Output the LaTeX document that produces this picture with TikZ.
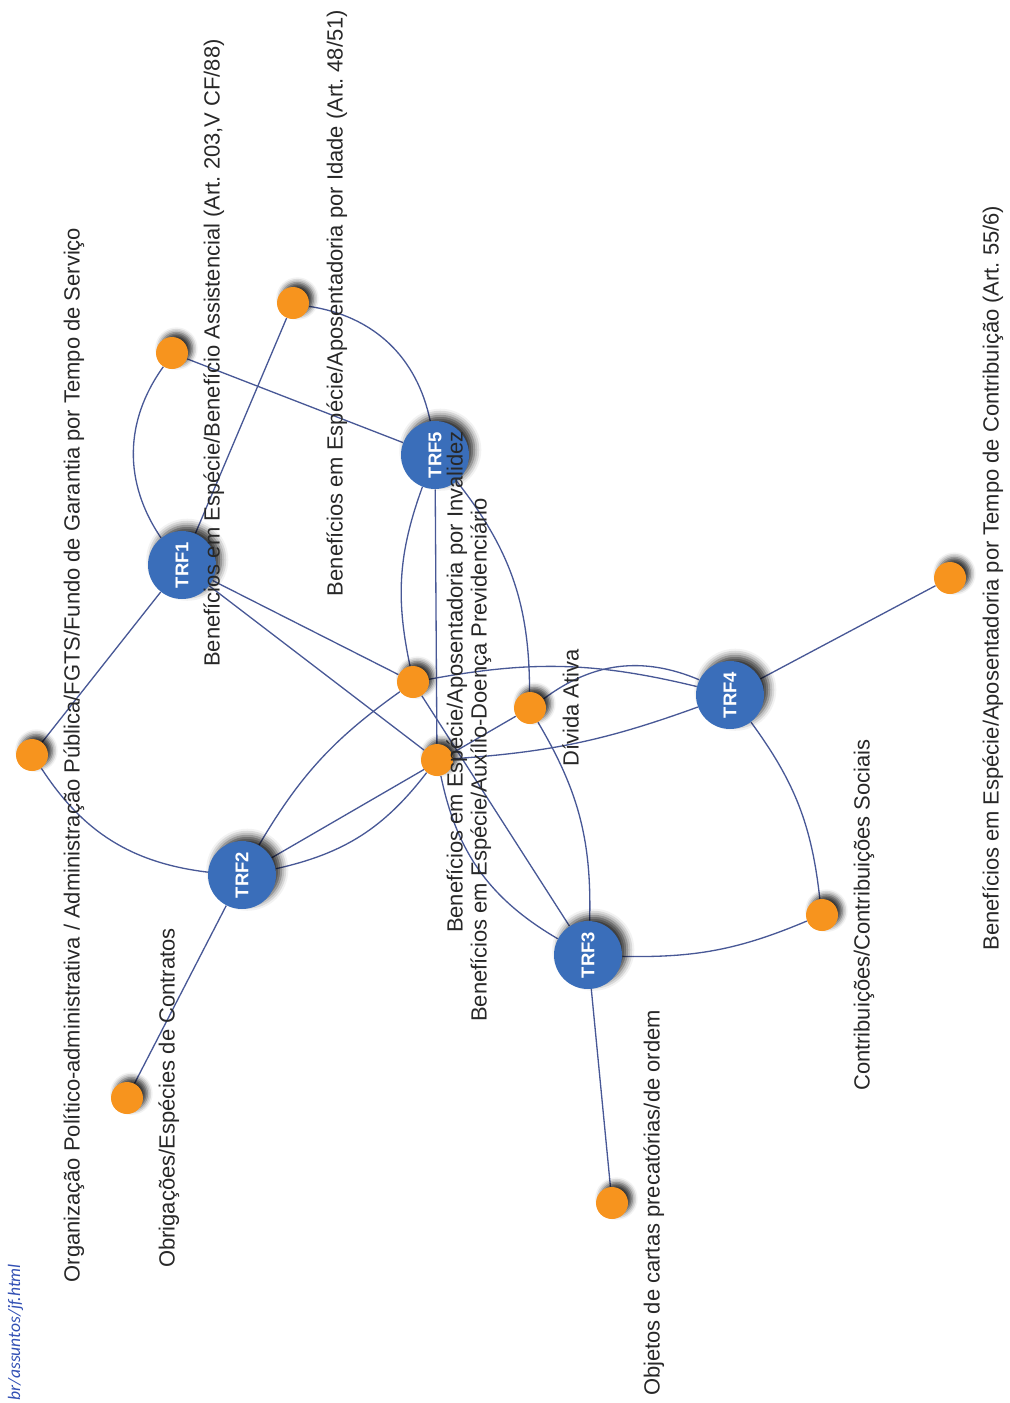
\documentclass[tikz,border=0pt]{standalone}
\usepackage{fontspec}
\setmainfont{Liberation Sans}
\newfontfamily\urlfont{Carlito}
\usepackage{graphicx}
\usepackage{tikz}
\usetikzlibrary{positioning,backgrounds,shadows.blur}
\definecolor{trfblue}{RGB}{58, 110, 186}
\definecolor{topicorange}{RGB}{247, 148, 30}
\definecolor{edgeslate}{RGB}{72, 88, 150}
\definecolor{urlblue}{RGB}{50, 80, 180}
\definecolor{labelgray}{RGB}{40, 40, 40}
\frenchspacing

\begin{document}
\begin{tikzpicture}[x=0.02cm, y=-0.02cm,
  trf/.style={circle, fill=trfblue, minimum size=1.36cm, inner sep=0pt, text=white, font=\fontsize{10.5}{12}\selectfont\bfseries, blur shadow={shadow xshift=3pt, shadow yshift=3pt, shadow blur radius=4pt, shadow opacity=80}},
  topic/.style={circle, fill=topicorange, minimum size=0.64cm, inner sep=0pt, blur shadow={shadow xshift=2.5pt, shadow yshift=2.5pt, shadow blur radius=3pt, shadow opacity=80}},
  lbl/.style={rotate=90, anchor=mid, inner sep=0pt, text=labelgray, font=\fontsize{12.5}{15}\selectfont},
  link/.style={draw=edgeslate, line width=0.75pt}
]
\useasboundingbox (0,0) rectangle (1009,1403);

% Tribunais (TRF)
\node[trf] (trf1) at (182, 565) {\rotatebox{90}{TRF1}};
\node[trf] (trf2) at (242, 875) {\rotatebox{90}{TRF2}};
\node[trf] (trf3) at (588, 955) {\rotatebox{90}{TRF3}};
\node[trf] (trf4) at (730, 695) {\rotatebox{90}{TRF4}};
\node[trf] (trf5) at (435, 455) {\rotatebox{90}{TRF5}};

% Assuntos
\node[topic] (orgpub) at (32, 755) {};
\node[topic] (assist) at (172, 353) {};
\node[topic] (idade) at (293, 303) {};
\node[topic] (invalidez) at (413, 682) {};
\node[topic] (auxilio) at (437, 760) {};
\node[topic] (divida) at (530, 708) {};
\node[topic] (tempocontrib) at (950, 578) {};
\node[topic] (contrib) at (822, 915) {};
\node[topic] (precat) at (612, 1203) {};
\node[topic] (contratos) at (127, 1098) {};

% Rotulos dos assuntos
\node[lbl] (orgpub-lbl) at ([xshift=0.86cm]orgpub.center) {Organização Político-administrativa / Administração Pública/FGTS/Fundo de Garantia por Tempo de Serviço};
\node[lbl] (assist-lbl) at ([xshift=0.86cm]assist.center) {Benefícios em Espécie/Benefício Assistencial (Art. 203,V CF/88)};
\node[lbl] (idade-lbl) at ([xshift=0.9cm]idade.center) {Benefícios em Espécie/Aposentadoria por Idade (Art. 48/51)};
\node[lbl] (invalidez-lbl) at ([xshift=0.9cm]invalidez.center) {Benefícios em Espécie/Aposentadoria por Invalidez};
\node[lbl] (auxilio-lbl) at ([xshift=0.9cm]auxilio.center) {Benefícios em Espécie/Auxílio-Doença Previdenciário};
\node[lbl] (divida-lbl) at ([xshift=0.88cm]divida.center) {Dívida Ativa};
\node[lbl] (tempocontrib-lbl) at ([xshift=0.88cm]tempocontrib.center) {Benefícios em Espécie/Aposentadoria por Tempo de Contribuição (Art. 55/6)};
\node[lbl] (contrib-lbl) at ([xshift=0.86cm]contrib.center) {Contribuições/Contribuições Sociais};
\node[lbl] (precat-lbl) at ([xshift=0.86cm]precat.center) {Objetos de cartas precatórias/de ordem};
\node[lbl] (contratos-lbl) at ([xshift=0.86cm]contratos.center) {Obrigações/Espécies de Contratos};

% Fonte
\node[rotate=90, anchor=base west, inner sep=0pt, text=urlblue, font=\urlfont\itshape\fontsize{10}{12}\selectfont] (url) at (20, 1401) {br/assuntos/jf.html};

% Ligacoes
\begin{scope}[on background layer]
\draw[link] (trf1) to[bend left=35] (assist);
\draw[link] (trf1) -- (idade);
\draw[link] (trf1) -- (orgpub);
\draw[link] (trf1) -- (invalidez);
\draw[link] (trf1) -- (auxilio);

\draw[link] (assist) -- (trf5);
\draw[link] (idade) to[bend left=35] (trf5);
\draw[link] (trf5) to[bend right=16] (invalidez);
\draw[link] (trf5) -- (auxilio);
\draw[link] (trf5) to[bend left=19] (divida);

\draw[link] (orgpub) to[bend right=25] (trf2);
\draw[link] (trf2) -- (contratos);
\draw[link] (trf2) to[bend left=12] (invalidez);
\draw[link] (trf2) to[bend right=20] (auxilio);
\draw[link] (trf2) -- (divida);

\draw[link] (invalidez) to[bend left=12] (trf4);
\draw[link] (divida) to[bend left=30] (trf4);
\draw[link] (auxilio) to[bend right=8] (trf4);
\draw[link] (trf4) -- (tempocontrib);
\draw[link] (trf4) to[bend left=15] (contrib);

\draw[link] (invalidez) -- (trf3);
\draw[link] (auxilio) to[bend right=24] (trf3);
\draw[link] (divida) to[bend left=16] (trf3);
\draw[link] (trf3) to[bend right=12] (contrib);
\draw[link] (trf3) -- (precat);
\end{scope}

\end{tikzpicture}
\end{document}
